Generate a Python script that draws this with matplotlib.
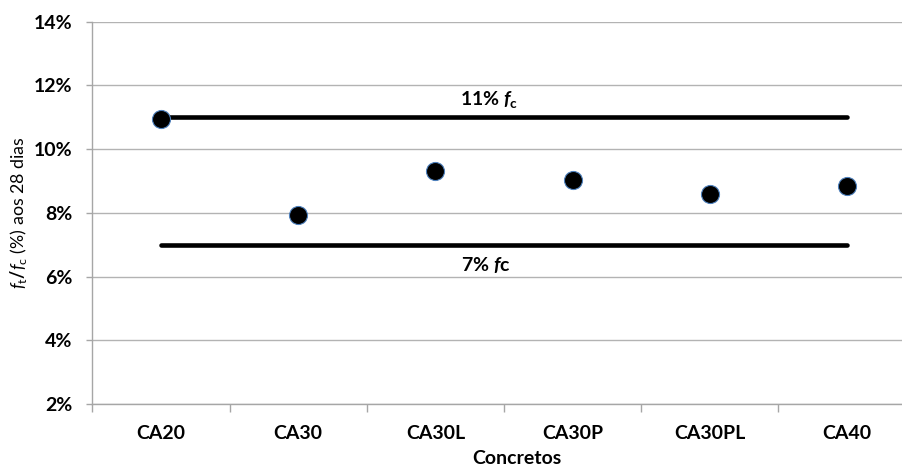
import matplotlib
matplotlib.use("Agg")
import matplotlib.pyplot as plt
from matplotlib.ticker import FixedLocator, FuncFormatter, NullFormatter

plt.rcParams['font.family'] = ['Lato', 'DejaVu Sans']
plt.rcParams['mathtext.fontset'] = 'custom'
plt.rcParams['mathtext.rm'] = 'Lato:bold'
plt.rcParams['mathtext.it'] = 'Lato:italic:bold'
plt.rcParams['mathtext.bf'] = 'Lato:bold'
plt.rcParams['mathtext.sf'] = 'Lato'
plt.rcParams['mathtext.cal'] = 'Lato:italic'

# Tensile / compressive strength ratio at 28 days
concretos = ['CA20', 'CA30', 'CA30L', 'CA30P', 'CA30PL', 'CA40']
razao = [10.95, 7.92, 9.31, 9.04, 8.59, 8.85]
limite_sup = 11.0
limite_inf = 7.0
y_ticks = [2, 4, 6, 8, 10, 12, 14]

FS = 14

fig = plt.figure(figsize=(9.02, 4.69), dpi=100)
ax = fig.add_axes([0.1025, 0.1386, 0.9126, 0.8151])

x = list(range(len(concretos)))
ax.plot([x[0], x[-1]], [limite_sup, limite_sup], color='black', lw=3.3,
        solid_capstyle='round', zorder=3)
ax.plot([x[0], x[-1]], [limite_inf, limite_inf], color='black', lw=3.3,
        solid_capstyle='round', zorder=3)
ax.scatter(x, razao, s=13**2, color='black', edgecolors='#4F81BD',
           linewidths=0.8, zorder=4)

ax.text(2.39, limite_sup + 0.37, r'11% $f_{\mathrm{c}}$', ha='center', va='baseline',
        fontsize=FS, fontweight='bold')
ax.text(2.37, limite_inf - 0.84, r'7% $f$c', ha='center', va='baseline',
        fontsize=FS, fontweight='bold')

ax.set_xlim(-0.5, len(concretos) - 0.5)
ax.set_ylim(2, 14)

ax.xaxis.set_major_locator(FixedLocator([i - 0.5 for i in range(len(concretos) + 1)]))
ax.xaxis.set_major_formatter(NullFormatter())
ax.set_xticks(x, minor=True)
ax.set_xticklabels(concretos, minor=True, fontsize=FS, fontweight='bold')
ax.tick_params(axis='x', which='major', length=6, width=1, color='#A6A6A6', direction='out')
ax.tick_params(axis='x', which='minor', length=0, pad=15)

ax.set_yticks(y_ticks)
ax.yaxis.set_major_formatter(FuncFormatter(lambda v, p: f'{v:.0f}%'))
ax.tick_params(axis='y', length=4.5, width=1, color='#A6A6A6', pad=10, labelsize=FS)
for lab in ax.get_yticklabels():
    lab.set_fontweight('bold')

ax.grid(axis='y', color='#B3B3B3', lw=1.0)
ax.set_axisbelow(True)
for s in ['top', 'right']:
    ax.spines[s].set_visible(False)
for s in ['left', 'bottom']:
    ax.spines[s].set_color('#A6A6A6')
    ax.spines[s].set_linewidth(1.0)

ax.set_xlabel('Concretos', fontsize=FS, fontweight='bold')
ax.xaxis.set_label_coords(0.516, -0.12)
ax.set_ylabel(r'$\mathcal{f}_{\mathsf{t}}/\mathcal{f}_{\mathsf{c}}$ (%) aos 28 dias',
              fontsize=12.8, fontweight='normal')
ax.yaxis.set_label_coords(-0.077, 0.5)

fig.savefig('out.png', dpi=100)
